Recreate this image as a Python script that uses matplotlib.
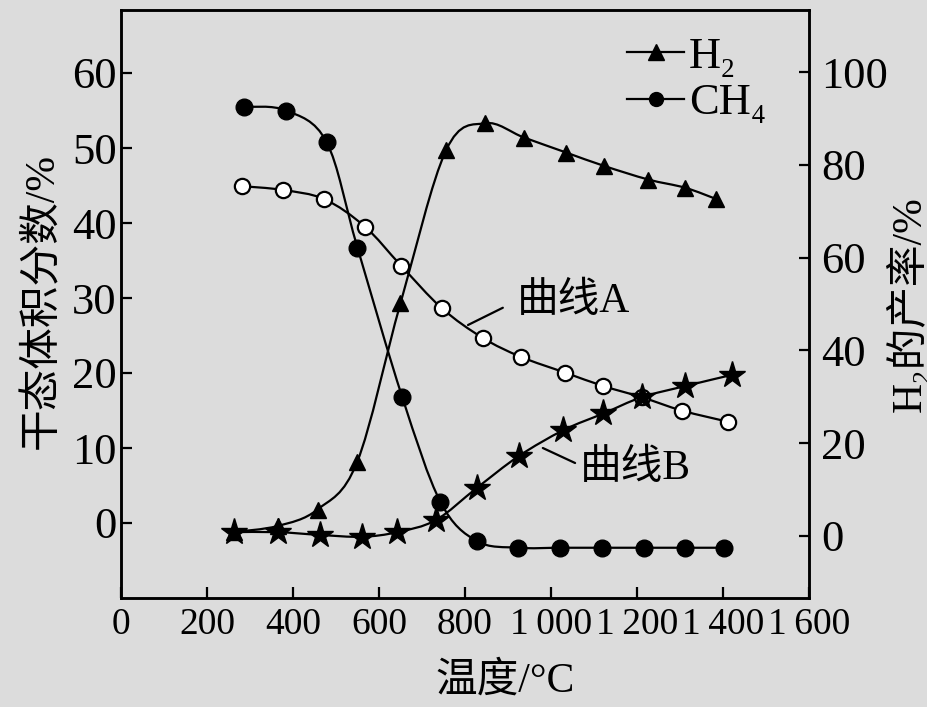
import numpy as np
import matplotlib
matplotlib.use("Agg")
import matplotlib.pyplot as plt
from matplotlib.path import Path
from matplotlib.patches import PathPatch
from matplotlib.lines import Line2D

plt.rcParams['font.family'] = ['Liberation Serif', 'Noto Sans CJK SC', 'DejaVu Serif']

# 数据 (温度 / °C)
ch4_t = [287, 384, 478, 550, 654, 743, 827, 924, 1021, 1118, 1216, 1312, 1403]
ch4 = [55.5, 55.0, 50.8, 36.7, 16.8, 2.8, -2.4, -3.3, -3.3, -3.3, -3.3, -3.3, -3.3]

h2_t = [263, 364, 457, 549, 650, 756, 847, 937, 1035, 1124, 1226, 1312, 1384]
h2 = [-1.2, -0.4, 1.8, 8.1, 29.3, 49.7, 53.3, 51.4, 49.4, 47.6, 45.8, 44.7, 43.2]

# 曲线A / 曲线B: H2 产率 (右轴)
a_t = [282, 376, 473, 567, 651, 746, 841, 930, 1033, 1122, 1211, 1305, 1412]
a_val = [75.4, 74.6, 72.6, 66.7, 58.3, 49.1, 42.7, 38.6, 35.2, 32.3, 29.9, 27.0, 24.6]

b_t = [263, 364, 463, 560, 643, 732, 827, 925, 1029, 1122, 1211, 1312, 1420]
b_val = [0.8, 0.8, 0.2, -0.2, 0.8, 3.4, 10.3, 17.2, 22.8, 26.4, 29.9, 32.3, 34.7]

x_ticks = [0, 200, 400, 600, 800, 1000, 1200, 1400, 1600]
x_labels = ['0', '200', '400', '600', '800', '1\u2009000', '1\u2009200', '1\u2009400', '1\u2009600']

BG = '#dcdcdc'
LW = 1.6


def smooth_line(ax, x, y, **kw):
    # Catmull-Rom -> Bezier, drawn as a path through the data points
    p = np.column_stack([x, y]).astype(float)
    ext = np.vstack([p[0], p, p[-1]])
    verts = [p[0]]
    codes = [Path.MOVETO]
    for i in range(len(p) - 1):
        p0, p1, p2, p3 = ext[i], ext[i + 1], ext[i + 2], ext[i + 3]
        verts += [p1 + (p2 - p0) / 6, p2 - (p3 - p1) / 6, p2]
        codes += [Path.CURVE4] * 3
    ax.add_patch(PathPatch(Path(verts, codes), fill=False, lw=LW, ec='black', zorder=2))


fig = plt.figure(figsize=(9.28, 7.07), dpi=100, facecolor=BG)
ax = fig.add_axes([121 / 928, 1 - 598 / 707, 688 / 928, 588 / 707])
ax.set_facecolor(BG)
ax2 = ax.twinx()

# 左轴: CH4, H2
smooth_line(ax, ch4_t, ch4)
ax.plot(ch4_t, ch4, ls='none', marker='o', ms=12, color='black', zorder=3)
smooth_line(ax, h2_t, h2)
ax.plot(h2_t, h2, ls='none', marker='^', ms=12, color='black', zorder=3)

# 右轴: 曲线A, 曲线B
smooth_line(ax2, a_t, a_val)
ax2.plot(a_t, a_val, ls='none', marker='o', ms=11, mfc='white', mec='black', mew=1.6, zorder=3)
smooth_line(ax2, b_t, b_val)
ax2.plot(b_t, b_val, ls='none', marker='*', ms=20, color='black', zorder=3)

ax.set_xlim(0, 1600)
ax.set_ylim(-10, 68.4)
ax2.set_ylim(-13.4, 113.4)
ax.set_xticks(x_ticks)
ax.set_xticklabels(x_labels)
ax.set_yticks([0, 10, 20, 30, 40, 50, 60])
ax2.set_yticks([0, 20, 40, 60, 80, 100])

for a in (ax, ax2):
    for s in a.spines.values():
        s.set_linewidth(1.8)
ax.tick_params(axis='x', direction='in', length=8, width=1.6, labelsize=27, pad=7)
ax.tick_params(axis='y', direction='in', length=8, width=1.6, labelsize=32, pad=3)
ax2.tick_params(axis='y', direction='in', length=7, width=1.6, labelsize=32, pad=9)

ax.set_xlabel('温度/°C', fontsize=30)
ax.xaxis.set_label_coords(0.558, -0.108)
ax.set_ylabel('干态体积分数/%', fontsize=30)
ax.yaxis.set_label_coords(-0.086, 0.505)
ax2.set_ylabel('H\u2082的产率/%', fontsize=30)
ax2.yaxis.set_label_coords(1.113, 0.5)

# 标注
ax.annotate('', xy=(807, 26.4), xytext=(888, 28.7),
            arrowprops=dict(arrowstyle='-', lw=1.6, color='black', shrinkA=0, shrinkB=0))
ax.text(921, 29.5, '曲线A', fontsize=30, ha='left', va='center')
ax.annotate('', xy=(981, 10.0), xytext=(1056, 8.0),
            arrowprops=dict(arrowstyle='-', lw=1.6, color='black', shrinkA=0, shrinkB=0))
ax.text(1067, 7.3, '曲线B', fontsize=30, ha='left', va='center')

handles = [Line2D([], [], color='black', lw=LW, marker='^', ms=11),
           Line2D([], [], color='black', lw=LW, marker='o', ms=10)]
ax.legend(handles, ['H\u2082', 'CH\u2084'], loc='upper left', bbox_to_anchor=(0.735, 0.955),
          frameon=False, fontsize=32, handlelength=1.3, handletextpad=0.1,
          labelspacing=0.15, borderpad=0, borderaxespad=0)

fig.savefig('out.png', dpi=100, facecolor=BG)
